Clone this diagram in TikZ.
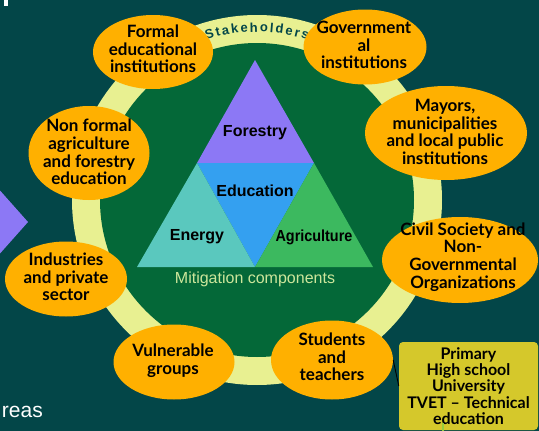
\documentclass[tikz,border=0pt]{standalone}
\usepackage{fontspec}
\setmainfont{Liberation Sans}
\newfontfamily\stakefont{Lato}
\usetikzlibrary{shapes, decorations.text, positioning}
\definecolor{bgteal}{RGB}{3,70,72}
\definecolor{ringyellow}{RGB}{232,240,145}
\definecolor{innergreen}{RGB}{4,104,56}
\definecolor{stakeorange}{RGB}{255,176,0}
\definecolor{forestpurple}{RGB}{140,120,245}
\definecolor{edublue}{RGB}{52,160,240}
\definecolor{energyteal}{RGB}{90,200,190}
\definecolor{agrigreen}{RGB}{60,185,95}
\definecolor{mitigreen}{RGB}{205,230,155}
\definecolor{boxolive}{RGB}{213,200,43}
\definecolor{linegreen}{RGB}{150,205,60}

\begin{document}
\begin{tikzpicture}[x=1pt, y=1pt,
    stake/.style = {shape=ellipse, fill=stakeorange, inner sep=0pt},
    staketext/.style = {align=center, text=black,
      font=\stakefont\bfseries\fontsize{17}{17.7}\selectfont},
    comp/.style = {font=\bfseries\fontsize{16}{18}\selectfont, text=black}]
  \useasboundingbox (0,0) rectangle (539,-431);
  \clip (0,0) rectangle (539,-431);
  \fill[bgteal] (0,0) rectangle (539,-431);
  \fill[white] (4,0) rectangle (8,-6);
  \fill[forestpurple] (-4,-186) -- (28,-222) -- (-4,-258) -- cycle;
  \node[anchor=base east, text=white, font=\fontsize{21}{21}\selectfont, inner sep=0pt]
    (areas) at (43,-417) {reas};

  % stakeholder ring
  \fill[ringyellow] (257,-200) circle[radius=185];
  \fill[innergreen] (257,-200) circle[radius=157];
  \path[decorate, decoration={text along path, text align=fit to path,
      text={|\bfseries\fontsize{13}{13}\selectfont\color{bgteal}|Stakeholders}}]
    (257,-200) ++(107.5:168) arc[start angle=107.5, end angle=72.5, radius=168];

  % mitigation components
  \fill[forestpurple] (255,-60) -- (314,-163) -- (197,-163) -- cycle;
  \fill[edublue] (197,-163) -- (314,-163) -- (255,-267) -- cycle;
  \fill[energyteal] (197,-163) -- (255,-267) -- (137,-267) -- cycle;
  \fill[agrigreen] (314,-163) -- (373,-267) -- (255,-267) -- cycle;
  \node[comp] (forestry) at (255,-133) {Forestry};
  \node[comp] (education) at (255,-191) {Education};
  \node[comp] (energy) at (197,-237) {Energy};
  \node[comp] (agriculture) at (314,-237) {\scalebox{0.9}[1]{Agriculture}};
  \node[text=mitigreen, font=\fontsize{16}{18}\selectfont] (mitigation) at (255,-279)
    {Mitigation components};

  % stakeholders
  \node[stake, minimum width=120, minimum height=74] (formal) at (153,-52) {};
  \node[staketext] (formal-txt) at (153,-49) {Formal\\educational\\institutions};
  \node[stake, minimum width=123, minimum height=75] (govt) at (365,-47) {};
  \node[staketext] (govt-txt) at (364,-45) {Government\\al\\institutions};
  \node[stake, minimum width=162, minimum height=94] (mayors) at (446,-133) {};
  \node[staketext] (mayors-txt) at (445,-132) {Mayors,\\municipalities\\and local public\\institutions};
  \node[stake, minimum width=121, minimum height=94] (nonformal) at (89,-153) {};
  \node[staketext] (nonformal-txt) at (89,-152) {Non formal\\agriculture\\and forestry\\education};
  \node[stake, minimum width=122, minimum height=75] (industries) at (66,-279) {};
  \node[staketext] (industries-txt) at (66,-277) {Industries\\and private\\sector};
  \node[stake, minimum width=121, minimum height=75] (vulnerable) at (174,-362) {};
  \node[staketext] (vulnerable-txt) at (173,-361) {Vulnerable\\groups};
  \node[stake, minimum width=156, minimum height=86] (civil) at (460,-260) {};
  \node[staketext] (civil-txt) at (463,-257) {Civil Society and\\Non-\\Governmental\\Organizations};
  \node[stake, minimum width=122, minimum height=79] (students) at (332,-360) {};
  \node[staketext] (students-txt) at (332,-357) {Students\\and\\teachers};

  % school levels
  \node[fill=boxolive, rounded corners=4pt, minimum width=139, minimum height=88,
        staketext, font=\stakefont\bfseries\fontsize{16}{16.2}\selectfont]
    (levels) at (468.5,-386) {Primary\\High school\\University\\TVET \textendash{} Technical\\education};
  \draw[black, line width=0.9pt] (students.east) -- (levels.west);
  \coordinate (levels-out) at (443,-440);
  \draw[linegreen, line width=1.5pt] (443,-423) -- (levels-out);
\end{tikzpicture}
\end{document}
